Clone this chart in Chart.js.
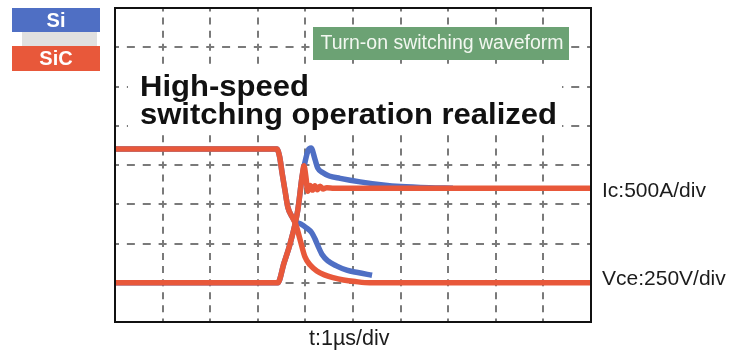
<!DOCTYPE html>
<html>
<head>
<meta charset="utf-8">
<title>Turn-on switching waveform</title>
<script src="https://cdn.jsdelivr.net/npm/chart.js@4/dist/chart.umd.min.js"></script>
<style>
  html, body { margin: 0; padding: 0; background: #ffffff; }
  #wrap { width: 730px; height: 352px; position: relative; }
</style>
</head>
<body>
<div id="wrap"><canvas id="scope" width="730" height="352"></canvas></div>
<script>
// Screen divisions: 10 horizontal (1 µs each), 8 vertical
const timeDivs = [0, 1, 2, 3, 4, 5, 6, 7, 8, 9, 10];
const levelDivs = [0, 1, 2, 3, 4, 5, 6, 7, 8];

// SiC collector-emitter voltage (divisions)
const sicVceTime  = [0, 3.40, 3.46, 3.51, 3.57, 3.63, 3.72, 3.80, 3.89, 3.99, 4.10, 4.24, 4.40, 4.58, 4.80, 5.05, 5.35, 10];
const sicVceLevel = [4.41, 4.41, 4.20, 3.80, 3.36, 2.93, 2.68, 2.48, 2.09, 1.66, 1.45, 1.30, 1.20, 1.13, 1.07, 1.03, 1.00, 1.00];

// SiC collector current (divisions)
const sicIcTime  = [0, 3.42, 3.55, 3.68, 3.84, 3.93, 3.97, 4.01, 4.05, 4.10, 4.15, 4.20, 4.25, 4.31, 4.37, 4.45, 4.60, 10];
const sicIcLevel = [1.00, 1.00, 1.50, 2.00, 2.85, 3.70, 3.98, 3.70, 3.33, 3.48, 3.36, 3.47, 3.37, 3.46, 3.39, 3.42, 3.41, 3.41];

// Si collector current (divisions)
const siIcTime  = [0, 3.42, 3.55, 3.68, 3.84, 3.93, 4.00, 4.06, 4.12, 4.20, 4.26, 4.37, 4.50, 4.73, 5.15, 5.63, 6.00, 6.60, 7.10];
const siIcLevel = [1.00, 1.00, 1.50, 2.00, 2.85, 3.70, 4.12, 4.38, 4.43, 4.15, 3.92, 3.80, 3.72, 3.66, 3.57, 3.49, 3.45, 3.42, 3.41];

// Si collector-emitter voltage (divisions)
const siVceTime  = [0, 3.40, 3.46, 3.51, 3.57, 3.63, 3.72, 3.79, 3.90, 4.02, 4.13, 4.20, 4.26, 4.35, 4.48, 4.65, 4.87, 5.10, 5.40];
const siVceLevel = [4.41, 4.41, 4.20, 3.80, 3.36, 2.93, 2.68, 2.55, 2.50, 2.40, 2.28, 2.12, 1.95, 1.72, 1.55, 1.43, 1.32, 1.26, 1.19];

// Text
const deviceLabels = ['Si', 'SiC'];
const traceLabels = ['Ic:500A/div', 'Vce:250V/div'];
const timeLabel = 't:1µs/div';
const headline = ['High-speed', 'switching operation realized'];
const badge = 'Turn-on switching waveform';

const SI_BLUE = '#4f6fc4';
const SIC_RED = '#e8583a';
const GRID = '#7a7a7a';
const SANS = '"Liberation Sans", Arial, Helvetica, sans-serif';

const toPoints = (t, v) => t.map((x, i) => ({ x, y: v[i] }));

// Annotations, frame and device key drawn over the scope screen
const overlay = {
  id: 'overlay',
  afterDraw(chart) {
    const { ctx, chartArea: a } = chart;
    ctx.save();

    // Headline on a white panel
    ctx.fillStyle = '#ffffff';
    ctx.fillRect(128, 68, 434, 65);
    ctx.fillStyle = '#111111';
    ctx.font = `bold 29px ${SANS}`;
    ctx.textAlign = 'left';
    ctx.textBaseline = 'alphabetic';
    const sx = 417 / ctx.measureText(headline[1]).width;
    ctx.save();
    ctx.translate(140, 0);
    ctx.scale(sx, 1);
    ctx.fillText(headline[0], 0, 96);
    ctx.fillText(headline[1], 0, 124);
    ctx.restore();

    // Green badge
    ctx.fillStyle = '#6ca274';
    ctx.fillRect(313, 27, 256, 33);
    ctx.fillStyle = '#f2f7f0';
    ctx.font = `19.5px ${SANS}`;
    ctx.textAlign = 'center';
    ctx.textBaseline = 'middle';
    ctx.fillText(badge, 442, 44);

    // Screen frame
    ctx.strokeStyle = '#111111';
    ctx.lineWidth = 2;
    ctx.strokeRect(a.left, a.top, a.right - a.left, a.bottom - a.top);

    // Scale captions
    ctx.fillStyle = '#1c1c1c';
    ctx.font = `21px ${SANS}`;
    ctx.textAlign = 'left';
    ctx.textBaseline = 'alphabetic';
    ctx.fillText(traceLabels[0], a.right + 11, 197);
    ctx.fillText(traceLabels[1], a.right + 11, 285);
    ctx.font = `21.5px ${SANS}`;
    ctx.fillText(timeLabel, 309, 345);

    // Device key
    ctx.fillStyle = SI_BLUE;
    ctx.fillRect(12, 8, 88, 24);
    ctx.fillStyle = '#e0e0e0';
    ctx.fillRect(22, 32, 75, 14);
    ctx.fillStyle = SIC_RED;
    ctx.fillRect(12, 46, 88, 25);
    ctx.fillStyle = '#ffffff';
    ctx.font = `bold 20px ${SANS}`;
    ctx.textAlign = 'center';
    ctx.textBaseline = 'middle';
    ctx.fillText(deviceLabels[0], 56, 21);
    ctx.fillText(deviceLabels[1], 56, 59);

    ctx.restore();
  }
};

const edgeless = (lo, hi) => (c) =>
  (c.tick && (c.tick.value === lo || c.tick.value === hi)) ? 'rgba(0,0,0,0)' : GRID;

const xMin = timeDivs[0], xMax = timeDivs[timeDivs.length - 1];
const yMin = levelDivs[0], yMax = levelDivs[levelDivs.length - 1];

new Chart(document.getElementById('scope'), {
  type: 'line',
  data: {
    datasets: [
      { label: 'SiC Ic', data: toPoints(sicIcTime, sicIcLevel), borderColor: SIC_RED, borderWidth: 5.5, order: 0 },
      { label: 'SiC Vce', data: toPoints(sicVceTime, sicVceLevel), borderColor: SIC_RED, borderWidth: 5.5, order: 1 },
      { label: 'Si Ic', data: toPoints(siIcTime, siIcLevel), borderColor: SI_BLUE, borderWidth: 5.5, order: 2 },
      { label: 'Si Vce', data: toPoints(siVceTime, siVceLevel), borderColor: SI_BLUE, borderWidth: 5.5, order: 3 }
    ]
  },
  options: {
    responsive: false,
    animation: false,
    events: [],
    layout: { padding: { left: 115, top: 8, right: 139, bottom: 30 } },
    elements: {
      point: { radius: 0 },
      line: { cubicInterpolationMode: 'monotone', borderJoinStyle: 'round', fill: false }
    },
    plugins: { legend: { display: false }, tooltip: { enabled: false } },
    scales: {
      x: {
        type: 'linear', min: xMin, max: xMax,
        ticks: { display: false, stepSize: 1 },
        grid: { color: edgeless(xMin, xMax), lineWidth: 2, drawTicks: false },
        border: { display: false, dash: [7, 6.08], dashOffset: 3.5 }
      },
      y: {
        type: 'linear', min: yMin, max: yMax,
        ticks: { display: false, stepSize: 1 },
        grid: { color: edgeless(yMin, yMax), lineWidth: 2, drawTicks: false },
        border: { display: false, dash: [8, 7.87], dashOffset: 4 }
      }
    }
  },
  plugins: [overlay]
});
</script>
</body>
</html>
